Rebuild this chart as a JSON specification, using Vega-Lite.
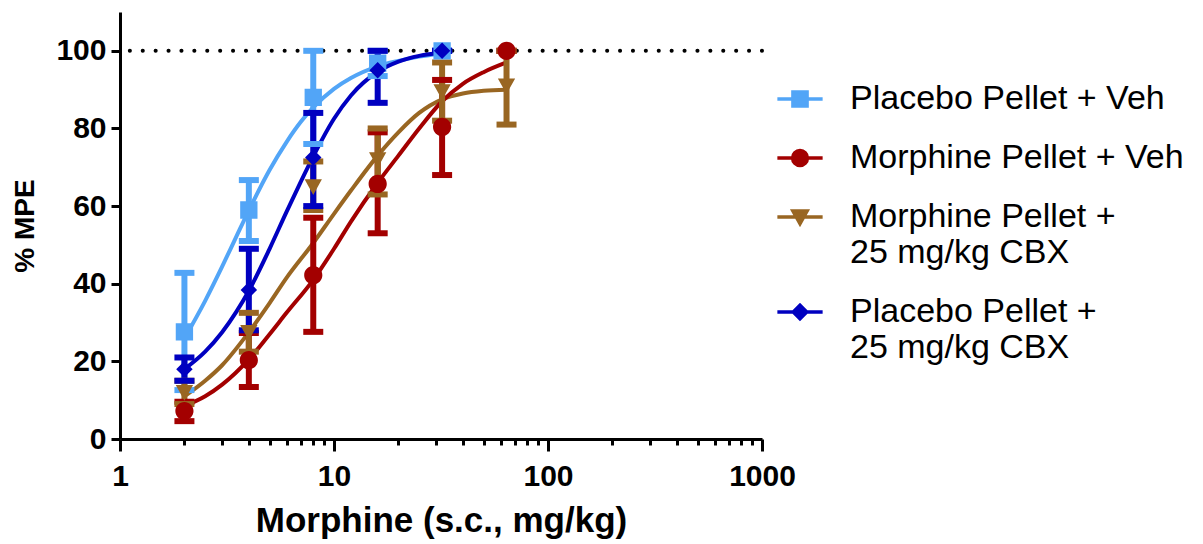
{
  "$schema": "https://vega.github.io/schema/vega-lite/v6.json",
  "width": 642,
  "height": 427,
  "autosize": {"type": "none"},
  "padding": {"left": 120, "top": 12, "right": 441, "bottom": 105},
  "background": "white",
  "config": {
    "view": {"stroke": null},
    "font": "Liberation Sans",
    "axis": {
      "domainColor": "black", "domainWidth": 3, "tickColor": "black", "tickWidth": 3,
      "labelColor": "black", "labelFont": "Liberation Sans", "labelFontWeight": "bold", "labelFontSize": 30,
      "titleColor": "black", "titleFont": "Liberation Sans", "titleFontWeight": "bold", "grid": false
    },
    "legend": {
      "labelFont": "Liberation Sans", "labelFontSize": 34, "labelColor": "black", "labelLimit": 400
    }
  },
  "resolve": {"axis": {"x": "independent"}},
  "datasets": {
    "pts": [
      {"series": "Placebo Pellet + Veh", "dose": 2, "mean": 27.6, "lo": 12.6, "hi": 42.8},
      {"series": "Placebo Pellet + Veh", "dose": 4, "mean": 59, "lo": 51, "hi": 66.7},
      {"series": "Placebo Pellet + Veh", "dose": 8, "mean": 88, "lo": 76, "hi": 100},
      {"series": "Placebo Pellet + Veh", "dose": 16, "mean": 96.8, "lo": 93.5, "hi": 100},
      {"series": "Placebo Pellet + Veh", "dose": 32, "mean": 100, "lo": 100, "hi": 100},
      {"series": "Morphine Pellet + Veh", "dose": 2, "mean": 7.2, "lo": 4.6, "hi": 9.6},
      {"series": "Morphine Pellet + Veh", "dose": 4, "mean": 20.3, "lo": 13.4, "hi": 27.3},
      {"series": "Morphine Pellet + Veh", "dose": 8, "mean": 42.2, "lo": 27.6, "hi": 57},
      {"series": "Morphine Pellet + Veh", "dose": 16, "mean": 65.7, "lo": 53, "hi": 79},
      {"series": "Morphine Pellet + Veh", "dose": 32, "mean": 80.4, "lo": 68, "hi": 92.5},
      {"series": "Morphine Pellet + Veh", "dose": 64, "mean": 100, "lo": 100, "hi": 100},
      {"series": "Morphine Pellet + 25 mg/kg CBX", "dose": 2, "mean": 12, "lo": 9, "hi": 15},
      {"series": "Morphine Pellet + 25 mg/kg CBX", "dose": 4, "mean": 27.5, "lo": 22.5, "hi": 32.5},
      {"series": "Morphine Pellet + 25 mg/kg CBX", "dose": 8, "mean": 65, "lo": 59, "hi": 71.5},
      {"series": "Morphine Pellet + 25 mg/kg CBX", "dose": 16, "mean": 72, "lo": 63, "hi": 80},
      {"series": "Morphine Pellet + 25 mg/kg CBX", "dose": 32, "mean": 89.5, "lo": 82, "hi": 97},
      {"series": "Morphine Pellet + 25 mg/kg CBX", "dose": 64, "mean": 91, "lo": 81, "hi": 100},
      {"series": "Placebo Pellet + 25 mg/kg CBX", "dose": 2, "mean": 18, "lo": 15, "hi": 21},
      {"series": "Placebo Pellet + 25 mg/kg CBX", "dose": 4, "mean": 38.4, "lo": 28, "hi": 49},
      {"series": "Placebo Pellet + 25 mg/kg CBX", "dose": 8, "mean": 72.5, "lo": 60, "hi": 84},
      {"series": "Placebo Pellet + 25 mg/kg CBX", "dose": 16, "mean": 95, "lo": 86.6, "hi": 100},
      {"series": "Placebo Pellet + 25 mg/kg CBX", "dose": 32, "mean": 100, "lo": 100, "hi": 100}
    ],
    "curve": [
      {"series": "Placebo Pellet + Veh", "dose": 2, "y": 25.9},
      {"series": "Placebo Pellet + Veh", "dose": 2.5, "y": 35.6},
      {"series": "Placebo Pellet + Veh", "dose": 3, "y": 44.4},
      {"series": "Placebo Pellet + Veh", "dose": 3.5, "y": 52.2},
      {"series": "Placebo Pellet + Veh", "dose": 4, "y": 58.9},
      {"series": "Placebo Pellet + Veh", "dose": 5, "y": 69.3},
      {"series": "Placebo Pellet + Veh", "dose": 6, "y": 76.5},
      {"series": "Placebo Pellet + Veh", "dose": 7, "y": 81.7},
      {"series": "Placebo Pellet + Veh", "dose": 8, "y": 85.4},
      {"series": "Placebo Pellet + Veh", "dose": 10, "y": 90.2},
      {"series": "Placebo Pellet + Veh", "dose": 12, "y": 93.0},
      {"series": "Placebo Pellet + Veh", "dose": 16, "y": 96.0},
      {"series": "Placebo Pellet + Veh", "dose": 20, "y": 97.4},
      {"series": "Placebo Pellet + Veh", "dose": 25, "y": 98.5},
      {"series": "Placebo Pellet + Veh", "dose": 32, "y": 99.4},
      {"series": "Placebo Pellet + 25 mg/kg CBX", "dose": 2, "y": 18},
      {"series": "Placebo Pellet + 25 mg/kg CBX", "dose": 2.5, "y": 22.5},
      {"series": "Placebo Pellet + 25 mg/kg CBX", "dose": 3, "y": 27.5},
      {"series": "Placebo Pellet + 25 mg/kg CBX", "dose": 3.5, "y": 32.8},
      {"series": "Placebo Pellet + 25 mg/kg CBX", "dose": 4, "y": 38.2},
      {"series": "Placebo Pellet + 25 mg/kg CBX", "dose": 5, "y": 49},
      {"series": "Placebo Pellet + 25 mg/kg CBX", "dose": 6, "y": 58.5},
      {"series": "Placebo Pellet + 25 mg/kg CBX", "dose": 7, "y": 66.3},
      {"series": "Placebo Pellet + 25 mg/kg CBX", "dose": 8, "y": 72.8},
      {"series": "Placebo Pellet + 25 mg/kg CBX", "dose": 10, "y": 82.5},
      {"series": "Placebo Pellet + 25 mg/kg CBX", "dose": 12, "y": 88.5},
      {"series": "Placebo Pellet + 25 mg/kg CBX", "dose": 16, "y": 94.6},
      {"series": "Placebo Pellet + 25 mg/kg CBX", "dose": 20, "y": 97.2},
      {"series": "Placebo Pellet + 25 mg/kg CBX", "dose": 25, "y": 98.7},
      {"series": "Placebo Pellet + 25 mg/kg CBX", "dose": 32, "y": 99.5},
      {"series": "Morphine Pellet + 25 mg/kg CBX", "dose": 2, "y": 11},
      {"series": "Morphine Pellet + 25 mg/kg CBX", "dose": 2.5, "y": 15},
      {"series": "Morphine Pellet + 25 mg/kg CBX", "dose": 3, "y": 19},
      {"series": "Morphine Pellet + 25 mg/kg CBX", "dose": 4, "y": 27.5},
      {"series": "Morphine Pellet + 25 mg/kg CBX", "dose": 5, "y": 35},
      {"series": "Morphine Pellet + 25 mg/kg CBX", "dose": 6, "y": 41.5},
      {"series": "Morphine Pellet + 25 mg/kg CBX", "dose": 8, "y": 50.5},
      {"series": "Morphine Pellet + 25 mg/kg CBX", "dose": 10, "y": 58},
      {"series": "Morphine Pellet + 25 mg/kg CBX", "dose": 12, "y": 64},
      {"series": "Morphine Pellet + 25 mg/kg CBX", "dose": 16, "y": 73},
      {"series": "Morphine Pellet + 25 mg/kg CBX", "dose": 20, "y": 79},
      {"series": "Morphine Pellet + 25 mg/kg CBX", "dose": 25, "y": 84},
      {"series": "Morphine Pellet + 25 mg/kg CBX", "dose": 32, "y": 87.5},
      {"series": "Morphine Pellet + 25 mg/kg CBX", "dose": 40, "y": 89},
      {"series": "Morphine Pellet + 25 mg/kg CBX", "dose": 50, "y": 89.7},
      {"series": "Morphine Pellet + 25 mg/kg CBX", "dose": 64, "y": 90},
      {"series": "Morphine Pellet + Veh", "dose": 2, "y": 8.5},
      {"series": "Morphine Pellet + Veh", "dose": 2.5, "y": 11},
      {"series": "Morphine Pellet + Veh", "dose": 3, "y": 14},
      {"series": "Morphine Pellet + Veh", "dose": 4, "y": 20.5},
      {"series": "Morphine Pellet + Veh", "dose": 5, "y": 27},
      {"series": "Morphine Pellet + Veh", "dose": 6, "y": 32.5},
      {"series": "Morphine Pellet + Veh", "dose": 8, "y": 41},
      {"series": "Morphine Pellet + Veh", "dose": 10, "y": 49},
      {"series": "Morphine Pellet + Veh", "dose": 12, "y": 56},
      {"series": "Morphine Pellet + Veh", "dose": 16, "y": 66},
      {"series": "Morphine Pellet + Veh", "dose": 20, "y": 73},
      {"series": "Morphine Pellet + Veh", "dose": 25, "y": 80},
      {"series": "Morphine Pellet + Veh", "dose": 32, "y": 87},
      {"series": "Morphine Pellet + Veh", "dose": 40, "y": 91.5},
      {"series": "Morphine Pellet + Veh", "dose": 50, "y": 94.5},
      {"series": "Morphine Pellet + Veh", "dose": 64, "y": 97}
    ]
  },
  "layer": [
    {
      "data": {"values": [{"ref": 100}]},
      "mark": {"type": "rule", "color": "black", "strokeWidth": 4, "strokeCap": "round", "strokeDash": [0.1, 12.8]},
      "encoding": {"y": {"field": "ref", "type": "quantitative"}}
    },
    {
      "data": {"name": "curve"},
      "mark": {"type": "line", "interpolate": "monotone", "strokeWidth": 4},
      "encoding": {
        "x": {"field": "dose", "type": "quantitative",
              "scale": {"type": "log", "domain": [1, 1000]},
              "axis": {"orient": "bottom", "values": [1, 10, 100, 1000], "format": "d", "tickSize": 12, "labelPadding": 10, "labelFlush": false,
                       "title": "Morphine (s.c., mg/kg)", "titleFontSize": 35, "titlePadding": 12}},
        "y": {"field": "y", "type": "quantitative",
              "scale": {"domain": [0, 110], "nice": false},
              "axis": {"values": [0, 20, 40, 60, 80, 100], "tickSize": 9, "labelPadding": 5,
                       "title": "% MPE", "titleFontSize": 28, "titlePadding": 16}},
        "color": {"field": "series", "type": "nominal", "legend": null,
                  "scale": {"range": ["#996622", "#A30000", "#0000C0", "#52A5F7"]}}
      }
    },
    {
      "data": {"name": "pts"},
      "mark": {"type": "rule", "strokeWidth": 6},
      "encoding": {
        "x": {"field": "dose", "type": "quantitative",
              "axis": {"orient": "bottom", "values": [2,3,4,5,6,7,8,9,20,30,40,50,60,70,80,90,200,300,400,500,600,700,800,900],
                       "labels": false, "domain": false, "tickSize": 6, "title": null}},
        "y": {"field": "lo", "type": "quantitative"},
        "y2": {"field": "hi"},
        "color": {"field": "series", "type": "nominal", "legend": null}
      }
    },
    {
      "data": {"name": "pts"},
      "transform": [{"fold": ["lo", "hi"], "as": ["bound", "val"]}],
      "mark": {"type": "tick", "orient": "horizontal", "size": 20, "thickness": 6, "opacity": 1},
      "encoding": {
        "x": {"field": "dose", "type": "quantitative", "axis": null},
        "y": {"field": "val", "type": "quantitative"},
        "color": {"field": "series", "type": "nominal", "legend": null}
      }
    },
    {
      "data": {"name": "pts"},
      "transform": [{"filter": "datum.dose < 0"}],
      "mark": {"type": "point", "filled": true, "size": 200, "strokeWidth": 3.5, "opacity": 1},
      "encoding": {
        "x": {"field": "dose", "type": "quantitative", "axis": null},
        "y": {"field": "mean", "type": "quantitative"},
        "fill": {"field": "series", "type": "nominal",
                 "scale": {"domain": ["Placebo Pellet + Veh", "Morphine Pellet + Veh", "Morphine Pellet + 25 mg/kg CBX", "Placebo Pellet + 25 mg/kg CBX"],
                           "range": ["#52A5F7", "#A30000", "#996622", "#0000C0"]},
                 "legend": {"title": null, "orient": "right", "offset": -49, "padding": 70,
                            "symbolSize": 200, "symbolStrokeWidth": 3.5, "labelOffset": 33, "rowPadding": 25,
                            "labelExpr": "datum.label == 'Morphine Pellet + 25 mg/kg CBX' ? ['Morphine Pellet +', '25 mg/kg CBX'] : datum.label == 'Placebo Pellet + 25 mg/kg CBX' ? ['Placebo Pellet +', '25 mg/kg CBX'] : datum.label"}},
        "stroke": {"field": "series", "type": "nominal",
                   "scale": {"domain": ["Placebo Pellet + Veh", "Morphine Pellet + Veh", "Morphine Pellet + 25 mg/kg CBX", "Placebo Pellet + 25 mg/kg CBX"],
                             "range": ["#52A5F7", "#A30000", "#996622", "#0000C0"]}},
        "shape": {"field": "series", "type": "nominal",
                  "scale": {"domain": ["Placebo Pellet + Veh", "Morphine Pellet + Veh", "Morphine Pellet + 25 mg/kg CBX", "Placebo Pellet + 25 mg/kg CBX"],
                            "range": ["M-3.2,0L3.2,0M-1,-1L1,-1L1,1L-1,1Z",
                                      "M-3.2,0L3.2,0M1.05,0A1.05,1.05,0,1,1,-1.05,0A1.05,1.05,0,1,1,1.05,0Z",
                                      "M-3.2,0L3.2,0M-1,-0.85L1,-0.85L0,0.95Z",
                                      "M-3.2,0L3.2,0M0,-0.95L0.95,0L0,0.95L-0.95,0Z"]}}
      }
    },
    {
      "data": {"name": "pts"},
      "mark": {"type": "point", "filled": true, "size": 300, "opacity": 1},
      "encoding": {
        "x": {"field": "dose", "type": "quantitative", "axis": null},
        "y": {"field": "mean", "type": "quantitative"},
        "fill": {"field": "series", "type": "nominal"},
        "shape": {"field": "series", "type": "nominal"}
      }
    }
  ]
}
